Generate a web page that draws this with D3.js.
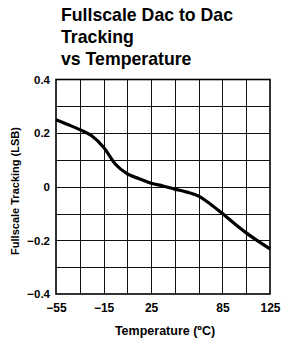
<!DOCTYPE html>
<html><head><meta charset="utf-8">
<script src="https://cdn.jsdelivr.net/npm/d3@7"></script>
<style>body{margin:0;background:#fff}svg{display:block}</style>
</head><body>
<svg id="c" width="281" height="344"></svg>
<script>
const temps = [-55,-45,-35,-25,-15,-5,5,15,25,35,45,55,65,75,85,95,105,115,125];
const tracking = [0.25,0.232,0.213,0.19,0.147,0.084,0.048,0.03,0.013,0.003,-0.009,-0.02,-0.035,-0.065,-0.1,-0.137,-0.172,-0.203,-0.232];
const xTicks = [-55,-15,25,85,125];
const yTicks = [-0.4,-0.2,0,0.2,0.4];
const titleLines = ["Fullscale Dac to Dac","Tracking","vs Temperature"];

const svg = d3.select("#c");
const L=56, R=270, T=79.5, B=294;
const x = d3.scaleLinear().domain([-55,125]).range([L,R]);
const y = d3.scaleLinear().domain([-0.4,0.4]).range([B,T]);

svg.selectAll("text.title").data(titleLines).join("text")
  .attr("x",61).attr("y",(d,i)=>20.5+i*22.2)
  .attr("font-family","Liberation Sans, Arial, sans-serif").attr("font-weight","bold")
  .attr("font-size",17.7).attr("fill","#000").text(d=>d);

const g = svg.append("g");
g.selectAll("line.vg").data(d3.range(-35,125,20)).join("line")
  .attr("x1",d=>Math.round(x(d))+0.5).attr("x2",d=>Math.round(x(d))+0.5)
  .attr("y1",T).attr("y2",B).attr("stroke","#111").attr("stroke-width",1);
g.selectAll("line.hg").data(d3.range(-0.3,0.35,0.1)).join("line")
  .attr("y1",d=>Math.round(y(d))+0.5).attr("y2",d=>Math.round(y(d))+0.5)
  .attr("x1",L).attr("x2",R).attr("stroke","#111").attr("stroke-width",1);
g.append("rect").attr("x",L).attr("y",T).attr("width",R-L).attr("height",B-T)
  .attr("fill","none").attr("stroke","#000").attr("stroke-width",1.6);

const fontF = "Liberation Sans, Arial, sans-serif";
const xa = svg.append("g").attr("transform",`translate(0,${B})`)
  .call(d3.axisBottom(x).tickValues(xTicks).tickSize(0).tickPadding(9).tickFormat(d=>String(d).replace("-","\u2212")));
xa.select(".domain").remove();
xa.selectAll("text").attr("font-family",fontF).attr("font-weight","bold").attr("font-size",12).attr("fill","#000");
const ya = svg.append("g").attr("transform",`translate(${L},0)`)
  .call(d3.axisLeft(y).tickValues(yTicks).tickSize(0).tickPadding(6).tickFormat(d=>d===0?"0":d3.format(".1f")(d).replace("-","\u2212")));
ya.select(".domain").remove();
ya.selectAll("text").attr("font-family",fontF).attr("font-weight","bold").attr("font-size",11.5).attr("fill","#000");

svg.append("text").attr("x",165).attr("y",335).attr("text-anchor","middle")
  .attr("font-family",fontF).attr("font-weight","bold").attr("font-size",12.5).text("Temperature (ºC)");
svg.append("text").attr("transform","translate(19,191) rotate(-90)").attr("text-anchor","middle")
  .attr("font-family",fontF).attr("font-weight","bold").attr("font-size",11).text("Fullscale Tracking (LSB)");

const line = d3.line().x((d,i)=>x(temps[i])).y(d=>y(d)).curve(d3.curveMonotoneX);
svg.append("path").datum(tracking).attr("d",line).attr("fill","none")
  .attr("stroke","#000").attr("stroke-width",3.2).attr("stroke-linejoin","round");
</script>
</body></html>
